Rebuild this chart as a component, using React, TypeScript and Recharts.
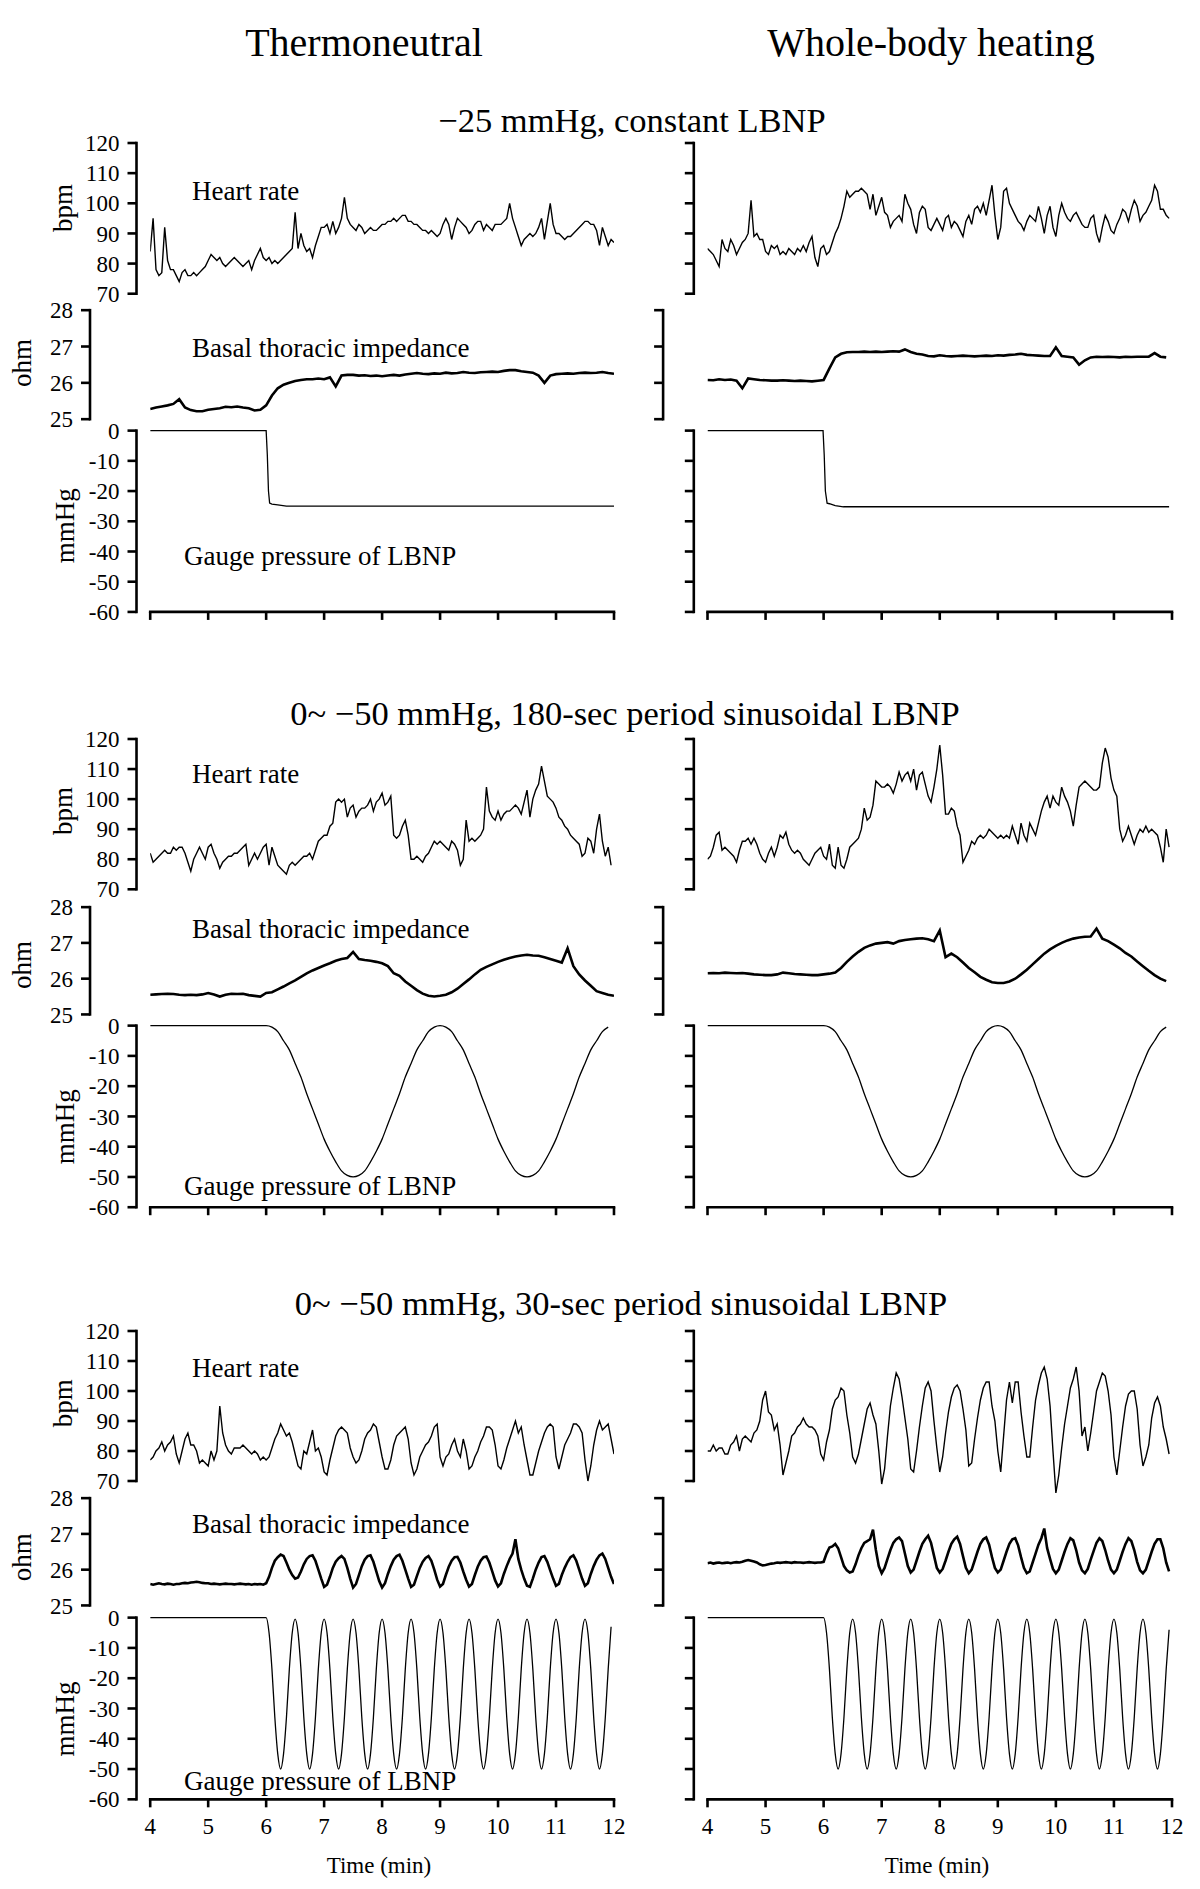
import React from "react";
import { LineChart, Line, XAxis, YAxis, ReferenceLine } from "recharts";

const SERIF = '"Liberation Serif", "Times New Roman", Times, serif';

// ---- ticks ----
const timeTicks = [4, 5, 6, 7, 8, 9, 10, 11, 12];
const hrTicks = [70, 80, 90, 100, 110, 120];
const ohmTicks = [25, 26, 27, 28];
const mmHgTicks = [-60, -50, -40, -30, -20, -10, 0];

// ---- heart rate (bpm), 0.05 min steps from t = 4 ----
const hrConstThermo = [
  84, 95, 78, 76, 77, 92, 81, 78, 78, 76,
  74, 77, 78, 76, 76, 77, 76, 77, 78, 79,
  81, 83, 82, 81, 82, 80, 79, 80, 81, 82,
  81, 80, 79, 80, 81, 78, 81, 83, 85, 82,
  81, 82, 80, 81, 80, 81, 82, 83, 84, 85,
  97, 85, 90, 86, 84, 85, 82, 86, 89, 92,
  92, 93, 90, 94, 90, 92, 95, 102, 95, 93,
  92, 91, 93, 92, 90, 91, 92, 91, 91, 92,
  93, 93, 94, 94, 95, 94, 95, 96, 96, 94,
  94, 93, 93, 92, 91, 91, 90, 91, 90, 89,
  90, 93, 95, 93, 88, 92, 95, 94, 93, 92,
  90, 91, 93, 94, 94, 91, 93, 92, 91, 93,
  93, 93, 94, 95, 100, 95, 92, 89, 86, 88,
  89, 90, 89, 90, 92, 95, 88, 94, 100, 93,
  90, 90, 89, 88, 89, 89, 90, 91, 92, 93,
  94, 94, 93, 93, 91, 86, 92, 89, 86, 88,
  87,
];
const hrConstHeat = [
  85, 84, 83, 81, 79, 88, 85, 84, 88, 86,
  83, 85, 87, 88, 90, 101, 89, 90, 88, 88,
  84, 83, 86, 85, 86, 83, 84, 83, 85, 84,
  83, 85, 84, 86, 84, 87, 89, 82, 79, 85,
  86, 83, 84, 87, 90, 92, 95, 99, 104, 102,
  103, 104, 104, 105, 104, 103, 98, 103, 96, 99,
  102, 97, 96, 92, 94, 95, 96, 94, 103, 100,
  98, 93, 90, 97, 99, 98, 92, 91, 93, 95,
  93, 91, 95, 96, 92, 94, 93, 91, 89, 94,
  96, 93, 98, 99, 97, 100, 96, 101, 106, 96,
  88, 92, 104, 105, 100, 98, 96, 94, 93, 91,
  94, 96, 95, 94, 99, 95, 90, 96, 99, 92,
  89, 96, 100, 97, 95, 94, 96, 97, 95, 93,
  92, 92, 95, 96, 90, 87, 92, 96, 94, 91,
  90, 93, 95, 98, 97, 94, 98, 101, 99, 94,
  96, 97, 99, 101, 106, 104, 98, 98, 96, 95,
];
const hrSlowThermo = [
  82, 79, 80, 81, 82, 83, 82, 82, 84, 83,
  84, 84, 82, 79, 76, 80, 82, 84, 82, 80,
  84, 85, 82, 80, 77, 79, 80, 81, 81, 82,
  82, 83, 84, 85, 78, 80, 82, 80, 82, 84,
  85, 78, 84, 81, 78, 77, 76, 75, 78, 79,
  78, 79, 80, 81, 81, 82, 80, 83, 86, 87,
  88, 88, 91, 92, 99, 100, 99, 100, 94, 97,
  98, 94, 96, 97, 97, 98, 100, 96, 99, 100,
  102, 98, 99, 101, 88, 87, 88, 91, 93, 88,
  80, 80, 81, 80, 79, 81, 82, 84, 86, 85,
  86, 85, 84, 83, 86, 85, 83, 78, 80, 93,
  86, 87, 86, 87, 88, 90, 104, 96, 94, 93,
  96, 93, 95, 96, 96, 97, 98, 97, 95, 99,
  103, 94, 100, 103, 105, 111, 106, 101, 100, 99,
  97, 94, 93, 91, 90, 88, 87, 86, 85, 81,
  82, 87, 86, 82, 90, 95, 86, 81, 84, 78,
];
const hrSlowHeat = [
  80, 81, 84, 88, 89, 83, 84, 83, 82, 81,
  79, 83, 86, 86, 87, 85, 87, 85, 82, 80,
  79, 82, 84, 81, 84, 88, 87, 89, 85, 83,
  82, 83, 82, 80, 79, 78, 80, 82, 83, 84,
  81, 80, 85, 78, 77, 84, 78, 77, 80, 84,
  85, 86, 87, 90, 97, 93, 94, 98, 106, 105,
  104, 104, 105, 104, 102, 105, 109, 106, 108, 109,
  106, 110, 103, 108, 109, 105, 101, 99, 104, 110,
  118, 108, 95, 95, 97, 96, 91, 88, 79, 81,
  83, 86, 85, 87, 88, 87, 88, 90, 89, 88,
  87, 88, 87, 88, 87, 91, 88, 85, 92, 88,
  86, 92, 90, 88, 92, 96, 99, 101, 97, 101,
  99, 98, 104, 101, 99, 96, 91, 98, 104, 105,
  106, 105, 104, 103, 103, 104, 112, 117, 114, 107,
  103, 101, 90, 86, 88, 91, 88, 85, 88, 90,
  89, 91, 89, 90, 89, 88, 84, 79, 90, 84,
];
const hrFastThermo = [
  77, 78, 80, 81, 83, 80, 82, 83, 85, 79,
  76, 80, 84, 86, 82, 82, 80, 76, 77, 76,
  75, 80, 77, 80, 95, 86, 82, 80, 79, 81,
  81, 81, 82, 81, 80, 79, 80, 79, 77, 78,
  77, 78, 81, 84, 86, 89, 87, 85, 86, 83,
  79, 75, 74, 80, 79, 83, 87, 80, 81, 78,
  73, 72, 77, 81, 85, 87, 88, 87, 86, 81,
  78, 76, 77, 80, 84, 86, 87, 89, 88, 83,
  78, 74, 74, 77, 82, 85, 86, 87, 88, 84,
  76, 72, 74, 78, 80, 82, 83, 85, 88, 89,
  78, 75, 78, 79, 82, 84, 80, 78, 84, 80,
  74, 75, 78, 80, 83, 85, 88, 88, 87, 82,
  75, 74, 77, 81, 84, 87, 90, 86, 88, 82,
  77, 72, 72, 76, 80, 83, 86, 88, 89, 88,
  78, 74, 78, 82, 84, 86, 89, 89, 88, 86,
  77, 70, 75, 82, 87, 90, 87, 88, 89, 84,
  79,
];
const hrFastHeat = [
  80, 80, 82, 80, 81, 81, 79, 79, 82, 83,
  85, 80, 84, 85, 84, 83, 86, 87, 90, 97,
  100, 93, 92, 87, 89, 82, 72, 76, 80, 85,
  86, 88, 89, 91, 89, 88, 88, 87, 85, 79,
  77, 83, 87, 94, 97, 98, 101, 100, 92, 86,
  78, 76, 79, 84, 89, 94, 96, 92, 89, 80,
  69, 74, 85, 95, 101, 106, 104, 98, 91, 84,
  74, 73, 80, 88, 95, 101, 103, 100, 90, 81,
  73, 78, 86, 93, 98, 101, 102, 100, 94, 87,
  75, 76, 84, 91, 97, 101, 103, 103, 95, 90,
  80, 73, 85, 97, 103, 96, 103, 103, 93, 85,
  78, 78, 88, 97, 102, 106, 108, 104, 95, 80,
  66, 72, 81, 89, 95, 101, 104, 108, 100, 85,
  88, 80, 86, 93, 100, 103, 106, 105, 100, 92,
  78, 72, 80, 88, 95, 99, 100, 100, 94, 82,
  75, 78, 82, 91, 96, 98, 95, 88, 84, 79,
];

// ---- basal thoracic impedance (ohm) ----
// 0.1 min steps
const ohmConstThermo = [
  25.28, 25.32, 25.35, 25.38, 25.42, 25.55, 25.32, 25.25, 25.22, 25.22,
  25.26, 25.28, 25.3, 25.34, 25.33, 25.35, 25.32, 25.3, 25.24, 25.26,
  25.38, 25.65, 25.85, 25.95, 26.0, 26.05, 26.08, 26.1, 26.1, 26.12,
  26.1, 26.15, 25.9, 26.2, 26.22, 26.22, 26.2, 26.21, 26.19, 26.2,
  26.18, 26.2, 26.22, 26.2, 26.23, 26.25, 26.27, 26.25, 26.24, 26.26,
  26.25, 26.28, 26.26, 26.27, 26.3, 26.28, 26.27, 26.29, 26.3, 26.31,
  26.3, 26.33, 26.35, 26.35, 26.32, 26.3, 26.28, 26.2, 26.0, 26.2,
  26.24, 26.25, 26.26, 26.25, 26.27, 26.28, 26.27, 26.28, 26.3, 26.27,
  26.25,
];
const ohmConstHeat = [
  26.08, 26.07, 26.1, 26.08, 26.09, 26.06, 25.85, 26.12, 26.1, 26.08,
  26.07, 26.06, 26.06, 26.07, 26.06, 26.05, 26.06, 26.05, 26.04, 26.06,
  26.08, 26.4, 26.7, 26.8, 26.84, 26.85, 26.85, 26.86, 26.85, 26.86,
  26.85, 26.86, 26.87, 26.86, 26.92, 26.85, 26.8, 26.78, 26.74, 26.73,
  26.76, 26.74, 26.73, 26.74, 26.75, 26.74, 26.73, 26.74, 26.75, 26.74,
  26.76, 26.75, 26.77, 26.78, 26.8, 26.77, 26.76, 26.75, 26.74, 26.74,
  26.98, 26.74, 26.72, 26.7, 26.5, 26.62, 26.7, 26.72, 26.71, 26.72,
  26.71, 26.7, 26.72, 26.71, 26.72, 26.72, 26.72, 26.82, 26.72, 26.7,
];
const ohmSlowThermo = [
  25.55, 25.56, 25.57, 25.58, 25.57, 25.55, 25.54, 25.55, 25.54, 25.56,
  25.6, 25.56, 25.5, 25.55, 25.58, 25.57, 25.58, 25.54, 25.52, 25.5,
  25.6, 25.62, 25.7, 25.78, 25.87, 25.95, 26.05, 26.15, 26.23, 26.3,
  26.37, 26.43, 26.5, 26.55, 26.58, 26.75, 26.55, 26.52, 26.5, 26.47,
  26.43, 26.35, 26.15, 26.08, 25.92, 25.8, 25.68, 25.58, 25.52, 25.5,
  25.52, 25.55, 25.62, 25.72, 25.85, 25.98, 26.12, 26.25, 26.33, 26.4,
  26.47, 26.53, 26.58, 26.62, 26.65, 26.67, 26.65, 26.64, 26.6, 26.55,
  26.5, 26.45, 26.85, 26.35, 26.12, 25.95, 25.8, 25.65, 25.6, 25.55,
  25.52,
];
const ohmSlowHeat = [
  26.15, 26.16, 26.15, 26.17, 26.16, 26.15, 26.16, 26.14, 26.12, 26.11,
  26.1, 26.1, 26.12, 26.17, 26.15, 26.13, 26.12, 26.11, 26.1, 26.1,
  26.12, 26.14, 26.17, 26.3, 26.47, 26.62, 26.75, 26.86, 26.93, 26.98,
  27.0, 27.02, 26.98, 27.05, 27.08, 27.1, 27.12, 27.13, 27.1, 27.05,
  27.35, 26.6, 26.7, 26.6, 26.45, 26.3, 26.18, 26.05, 25.97, 25.9,
  25.88, 25.88, 25.92, 26.0, 26.12, 26.25, 26.4, 26.55, 26.7, 26.82,
  26.92, 27.0, 27.07, 27.12, 27.15, 27.17, 27.18, 27.4, 27.12, 27.05,
  26.95, 26.85, 26.72, 26.62, 26.48, 26.35, 26.22, 26.1, 26.0, 25.93,
];
// 0.05 min steps
const ohmFastThermo = [
  25.6, 25.58, 25.6, 25.62, 25.6, 25.59, 25.61, 25.6, 25.58, 25.6,
  25.6, 25.62, 25.63, 25.62, 25.64, 25.65, 25.66, 25.65, 25.63, 25.62,
  25.62, 25.6, 25.61, 25.6, 25.59, 25.6, 25.61, 25.6, 25.6, 25.59,
  25.6, 25.61, 25.6, 25.59, 25.6, 25.58, 25.6, 25.59, 25.6, 25.58,
  25.62, 25.8, 26.05, 26.25, 26.35, 26.42, 26.38, 26.2, 26.0, 25.85,
  25.75, 25.78, 25.95, 26.15, 26.3, 26.38, 26.4, 26.25, 26.0, 25.75,
  25.52, 25.58, 25.8, 26.05, 26.22, 26.32, 26.38, 26.3, 26.05, 25.75,
  25.5, 25.6, 25.85, 26.1, 26.28, 26.38, 26.4, 26.22, 25.95, 25.68,
  25.5, 25.62, 25.88, 26.1, 26.28, 26.38, 26.42, 26.25, 26.0, 25.75,
  25.52, 25.58, 25.82, 26.05, 26.22, 26.33, 26.38, 26.25, 26.0, 25.72,
  25.53, 25.6, 25.85, 26.08, 26.25, 26.35, 26.36, 26.2, 25.95, 25.72,
  25.53, 25.6, 25.85, 26.08, 26.25, 26.35, 26.37, 26.2, 25.95, 25.7,
  25.53, 25.62, 25.88, 26.1, 26.3, 26.45, 26.85, 26.3, 26.0, 25.75,
  25.55, 25.52, 25.75, 26.0, 26.2, 26.35, 26.38, 26.22, 25.98, 25.75,
  25.55, 25.6, 25.85, 26.05, 26.22, 26.35, 26.4, 26.25, 26.0, 25.75,
  25.55, 25.62, 25.88, 26.1, 26.28, 26.4, 26.45, 26.3, 26.05, 25.8,
  25.6,
];
const ohmFastHeat = [
  26.18, 26.2, 26.17, 26.19, 26.2, 26.18, 26.19, 26.2, 26.18, 26.2,
  26.21, 26.2, 26.22, 26.25, 26.27, 26.25, 26.23, 26.2, 26.15, 26.12,
  26.13, 26.15, 26.17, 26.18, 26.2, 26.19, 26.2, 26.21, 26.2, 26.19,
  26.21, 26.2, 26.2, 26.19, 26.2, 26.21, 26.2, 26.19, 26.2, 26.2,
  26.22, 26.45, 26.62, 26.65, 26.72, 26.6, 26.35, 26.1, 25.98, 25.92,
  25.95, 26.15, 26.4, 26.6, 26.75, 26.8, 26.85, 27.12, 26.55, 26.1,
  25.9, 26.05, 26.3, 26.55, 26.75, 26.85, 26.9, 26.8, 26.45, 26.1,
  25.92, 26.0, 26.25, 26.5, 26.72, 26.85, 26.95, 26.75, 26.4, 26.05,
  25.92, 26.02, 26.25, 26.5, 26.72, 26.85, 26.92, 26.72, 26.38, 26.05,
  25.9, 26.0, 26.25, 26.5, 26.72, 26.85, 26.9, 26.7, 26.35, 26.05,
  25.92, 26.0, 26.25, 26.5, 26.72, 26.85, 26.88, 26.68, 26.35, 26.05,
  25.9, 25.95, 26.2, 26.45, 26.7, 26.88, 27.15, 26.6, 26.3, 26.02,
  25.9, 26.0, 26.25, 26.5, 26.72, 26.88, 26.82, 26.55, 26.2, 25.98,
  25.9, 26.02, 26.28, 26.52, 26.75, 26.88, 26.8, 26.55, 26.25, 26.0,
  25.9, 26.0, 26.25, 26.5, 26.72, 26.88, 26.8, 26.55, 26.22, 25.98,
  25.9, 26.0, 26.25, 26.5, 26.72, 26.85, 26.85, 26.6, 26.2, 25.95,
];

// ---- gauge pressure of LBNP (mmHg) ----
// constant LBNP: sampled at the listed times
const pConstTimesThermo = [4, 6.0, 6.02, 6.04, 6.06, 6.1, 6.2, 6.35, 12];
const pConstThermo = [0, 0, -8, -20, -24, -24.3, -24.6, -25, -25];
const pConstTimesHeat = [4, 5.99, 6.01, 6.03, 6.06, 6.1, 6.2, 6.34, 11.95];
const pConstHeat = [0, 0, -8, -20, -24, -24.2, -24.8, -25.2, -25.2];
// 180-sec period, 0.1 min steps
const pSlow = [
  0, 0, 0, 0, 0, 0, 0, 0, 0, 0,
  0, 0, 0, 0, 0, 0, 0, 0, 0, 0,
  0, -0.5, -2, -5, -8, -12.5, -17, -22.5, -27.5, -32.5,
  -37.5, -41.5, -45, -48, -49.5, -50, -49.5, -48, -45, -41.5,
  -37.5, -32.5, -27.5, -22.5, -17, -12.5, -8, -5, -2, -0.5,
  0, -0.5, -2, -5, -8, -12.5, -17, -22.5, -27.5, -32.5,
  -37.5, -41.5, -45, -48, -49.5, -50, -49.5, -48, -45, -41.5,
  -37.5, -32.5, -27.5, -22.5, -17, -12.5, -8, -5, -2, -0.5,
];
// 30-sec period, 0.05 min steps
const pFastThermo = [
  0, 0, 0, 0, 0, 0, 0, 0, 0, 0,
  0, 0, 0, 0, 0, 0, 0, 0, 0, 0,
  0, 0, 0, 0, 0, 0, 0, 0, 0, 0,
  0, 0, 0, 0, 0, 0, 0, 0, 0, 0,
  0,
  -5, -17, -33, -45, -50, -45, -33, -17, -5, -0.5,
  -5, -17, -33, -45, -50, -45, -33, -17, -5, -0.5,
  -5, -17, -33, -45, -50, -45, -33, -17, -5, -0.5,
  -5, -17, -33, -45, -50, -45, -33, -17, -5, -0.5,
  -5, -17, -33, -45, -50, -45, -33, -17, -5, -0.5,
  -5, -17, -33, -45, -50, -45, -33, -17, -5, -0.5,
  -5, -17, -33, -45, -50, -45, -33, -17, -5, -0.5,
  -5, -17, -33, -45, -50, -45, -33, -17, -5, -0.5,
  -5, -17, -33, -45, -50, -45, -33, -17, -5, -0.5,
  -5, -17, -33, -45, -50, -45, -33, -17, -5, -0.5,
  -5, -17, -33, -45, -50, -45, -33, -17, -5, -0.5,
  -5, -17, -33, -45, -50, -45, -33, -17, -3,
];
const pFastHeat = [
  0, 0, 0, 0, 0, 0, 0, 0, 0, 0,
  0, 0, 0, 0, 0, 0, 0, 0, 0, 0,
  0, 0, 0, 0, 0, 0, 0, 0, 0, 0,
  0, 0, 0, 0, 0, 0, 0, 0, 0, 0,
  0,
  -5, -17, -33, -45, -50, -45, -33, -17, -5, -0.5,
  -5, -17, -33, -45, -50, -45, -33, -17, -5, -0.5,
  -5, -17, -33, -45, -50, -45, -33, -17, -5, -0.5,
  -5, -17, -33, -45, -50, -45, -33, -17, -5, -0.5,
  -5, -17, -33, -45, -50, -45, -33, -17, -5, -0.5,
  -5, -17, -33, -45, -50, -45, -33, -17, -5, -0.5,
  -5, -17, -33, -45, -50, -45, -33, -17, -5, -0.5,
  -5, -17, -33, -45, -50, -45, -33, -17, -5, -0.5,
  -5, -17, -33, -45, -50, -45, -33, -17, -5, -0.5,
  -5, -17, -33, -45, -50, -45, -33, -17, -5, -0.5,
  -5, -17, -33, -45, -50, -45, -33, -17, -5, -0.5,
  -5, -17, -33, -45, -50, -45, -33, -17, -4,
];

type Pt = { t: number; v: number };
const stepped = (vals: number[], step: number): Pt[] =>
  vals.map((v, i) => ({ t: Math.round((4 + i * step) * 1000) / 1000, v }));
const paired = (ts: number[], vs: number[]): Pt[] => ts.map((t, i) => ({ t, v: vs[i] }));

// layout of the two columns and three sections (page pixels)
const COLS = [
  { left: 0, hrAxis: 136.5, ohmAxis: 90, t4: 150.2, t12: 614, showY: true },
  { left: 600, hrAxis: 693.8, ohmAxis: 663.1, t4: 707.5, t12: 1172, showY: false },
];
const ROWS = [
  { hr: [143.3, 294], ohm: [310, 419], p: [430.7, 612] },
  { hr: [739, 889.3], ohm: [906.7, 1014], p: [1025.7, 1207.3] },
  { hr: [1330.7, 1480.7], ohm: [1497.7, 1605], p: [1617.3, 1799] },
];

const tickFont = { fontSize: 23, fontFamily: SERIF, fill: "#000" };
const AXIS_W = 2.6;
const Y_TICK = 9;
const X_TICK = 8;

type PanelProps = {
  left: number;
  axisX: number;
  t4: number;
  t12: number;
  top: number;
  bottom: number;
  lo: number;
  hi: number;
  ticks: number[];
  floor?: number;
  data: Pt[];
  showY: boolean;
  xMode: "none" | "ticks" | "labels";
  curve: "linear" | "monotone";
  sw: number;
};

function Panel(p: PanelProps) {
  const MT = 16;
  const MB = 16;
  const MR = 18;
  const pxPerUnit = (p.bottom - p.top) / (p.hi - p.lo);
  const pad = (p.hi - p.lo) * 0.02;
  const hi2 = p.hi + pad;
  const lo2 = p.floor ?? (p.xMode === "none" ? p.lo - pad : p.lo);
  const plotTop = p.top - (hi2 - p.hi) * pxPerUnit;
  const plotH = (hi2 - lo2) * pxPerUnit;
  const xh = p.xMode === "labels" ? 46 : p.xMode === "ticks" ? 12 : 0;
  const width = p.t12 - p.left + MR;
  const height = MT + plotH + xh + MB;
  const pxPerMin = (p.t12 - p.t4) / 8;
  const tAxis = 4 - (p.t4 - p.axisX) / pxPerMin;
  const tTickEnd = tAxis - Y_TICK / pxPerMin;
  const xTickEnd = p.lo - X_TICK / pxPerUnit;

  return (
    <div style={{ position: "absolute", left: p.left, top: plotTop - MT }}>
      <LineChart
        width={width}
        height={height}
        data={p.data}
        margin={{ top: MT, right: MR, bottom: MB, left: 0 }}
      >
        <XAxis
          type="number"
          dataKey="t"
          domain={[4, 12]}
          ticks={timeTicks}
          interval={0}
          hide={p.xMode === "none"}
          height={xh || 1}
          padding={{ left: p.t4 - p.axisX, right: 0 }}
          axisLine={false}
          tickLine={false}
          tickSize={X_TICK}
          tickMargin={10}
          tick={p.xMode === "labels" ? tickFont : false}
          allowDataOverflow
        />
        <YAxis
          type="number"
          domain={[lo2, hi2]}
          ticks={p.ticks}
          interval={0}
          width={p.axisX - p.left}
          axisLine={false}
          tickLine={false}
          tickSize={Y_TICK}
          tickMargin={8}
          tick={p.showY ? tickFont : false}
          allowDataOverflow
        />
        {/* y axis line and its tick marks */}
        <ReferenceLine
          ifOverflow="visible"
          segment={[
            { x: tAxis, y: p.lo },
            { x: tAxis, y: p.hi },
          ]}
          stroke="#000"
          strokeWidth={AXIS_W}
          strokeLinecap="square"
        />
        {p.ticks.map((v) => (
          <ReferenceLine
            key={`yt${v}`}
            ifOverflow="visible"
            segment={[
              { x: tTickEnd, y: v },
              { x: tAxis, y: v },
            ]}
            stroke="#000"
            strokeWidth={AXIS_W}
          />
        ))}
        {/* x axis line and its tick marks */}
        {p.xMode !== "none" && (
          <ReferenceLine
            ifOverflow="visible"
            segment={[
              { x: 4, y: p.lo },
              { x: 12, y: p.lo },
            ]}
            stroke="#000"
            strokeWidth={AXIS_W}
            strokeLinecap="square"
          />
        )}
        {p.xMode !== "none" &&
          timeTicks.map((t) => (
            <ReferenceLine
              key={`xt${t}`}
              ifOverflow="visible"
              segment={[
                { x: t, y: p.lo },
                { x: t, y: xTickEnd },
              ]}
              stroke="#000"
              strokeWidth={AXIS_W}
            />
          ))}
        <Line
          type={p.curve}
          dataKey="v"
          stroke="#000"
          strokeWidth={p.sw}
          dot={false}
          isAnimationActive={false}
        />
      </LineChart>
    </div>
  );
}

const sections = [
  {
    title: "\u221225 mmHg, constant LBNP",
    titleX: 632,
    titleY: 132,
    hr: [stepped(hrConstThermo, 0.05), stepped(hrConstHeat, 0.05)],
    ohm: [stepped(ohmConstThermo, 0.1), stepped(ohmConstHeat, 0.1)],
    p: [paired(pConstTimesThermo, pConstThermo), paired(pConstTimesHeat, pConstHeat)],
    pCurve: "linear" as const,
    hrLabelY: 200,
    ohmLabelY: 356.7,
    pLabelY: 565,
    bpmY: 208,
    ohmY: 363,
    mmHgY: 525.7,
  },
  {
    title: "0~ \u221250 mmHg, 180-sec period sinusoidal LBNP",
    titleX: 625,
    titleY: 725,
    hr: [stepped(hrSlowThermo, 0.05), stepped(hrSlowHeat, 0.05)],
    ohm: [stepped(ohmSlowThermo, 0.1), stepped(ohmSlowHeat, 0.1)],
    p: [stepped(pSlow, 0.1), stepped(pSlow, 0.1)],
    pCurve: "monotone" as const,
    hrLabelY: 782.7,
    ohmLabelY: 938.3,
    pLabelY: 1195,
    bpmY: 811,
    ohmY: 965,
    mmHgY: 1126.7,
  },
  {
    title: "0~ \u221250 mmHg, 30-sec period sinusoidal LBNP",
    titleX: 621,
    titleY: 1315,
    hr: [stepped(hrFastThermo, 0.05), stepped(hrFastHeat, 0.05)],
    ohm: [stepped(ohmFastThermo, 0.05), stepped(ohmFastHeat, 0.05)],
    p: [stepped(pFastThermo, 0.05), stepped(pFastHeat, 0.05)],
    pCurve: "monotone" as const,
    hrLabelY: 1376.7,
    ohmLabelY: 1533.3,
    pLabelY: 1790,
    bpmY: 1403.3,
    ohmY: 1557.3,
    mmHgY: 1719,
  },
];

export default function App() {
  return (
    <div
      style={{
        position: "relative",
        width: 1200,
        height: 1889,
        background: "#fff",
        overflow: "hidden",
        fontFamily: SERIF,
      }}
    >
      <style>{"body{margin:0;background:#fff;}"}</style>
      {sections.map((s, si) =>
        COLS.map((c, ci) => {
          const row = ROWS[si];
          const last = si === ROWS.length - 1;
          return (
            <React.Fragment key={`${si}-${ci}`}>
              <Panel
                left={c.left}
                axisX={c.hrAxis}
                t4={c.t4}
                t12={c.t12}
                top={row.hr[0]}
                bottom={row.hr[1]}
                lo={70}
                hi={120}
                floor={64}
                ticks={hrTicks}
                data={s.hr[ci]}
                showY={c.showY}
                xMode="none"
                curve="linear"
                sw={1.4}
              />
              <Panel
                left={c.left}
                axisX={c.ohmAxis}
                t4={c.t4}
                t12={c.t12}
                top={row.ohm[0]}
                bottom={row.ohm[1]}
                lo={25}
                hi={28}
                ticks={ohmTicks}
                data={s.ohm[ci]}
                showY={c.showY}
                xMode="none"
                curve="linear"
                sw={2.6}
              />
              <Panel
                left={c.left}
                axisX={c.hrAxis}
                t4={c.t4}
                t12={c.t12}
                top={row.p[0]}
                bottom={row.p[1]}
                lo={-60}
                hi={0}
                ticks={mmHgTicks}
                data={s.p[ci]}
                showY={c.showY}
                xMode={last ? "labels" : "ticks"}
                curve={s.pCurve}
                sw={1.3}
              />
            </React.Fragment>
          );
        })
      )}
      <svg
        width={1200}
        height={1889}
        style={{ position: "absolute", left: 0, top: 0, pointerEvents: "none" }}
        fontFamily={SERIF}
        fill="#000"
      >
        <text x={364} y={56} fontSize={40} textAnchor="middle">
          Thermoneutral
        </text>
        <text x={931} y={56} fontSize={40} textAnchor="middle">
          Whole-body heating
        </text>
        {sections.map((s, i) => (
          <g key={i}>
            <text x={s.titleX} y={s.titleY} fontSize={34.5} textAnchor="middle">
              {s.title}
            </text>
            <text x={192} y={s.hrLabelY} fontSize={27}>
              Heart rate
            </text>
            <text x={192} y={s.ohmLabelY} fontSize={27}>
              Basal thoracic impedance
            </text>
            <text x={184} y={s.pLabelY} fontSize={27}>
              Gauge pressure of LBNP
            </text>
            <text
              transform={`translate(63.3,${s.bpmY}) rotate(-90)`}
              fontSize={27}
              textAnchor="middle"
              dominantBaseline="central"
            >
              bpm
            </text>
            <text
              transform={`translate(22.4,${s.ohmY}) rotate(-90)`}
              fontSize={27}
              textAnchor="middle"
              dominantBaseline="central"
            >
              ohm
            </text>
            <text
              transform={`translate(65.3,${s.mmHgY}) rotate(-90)`}
              fontSize={27}
              textAnchor="middle"
              dominantBaseline="central"
            >
              mmHg
            </text>
          </g>
        ))}
        <text x={379} y={1873} fontSize={23} textAnchor="middle">
          Time (min)
        </text>
        <text x={937} y={1873} fontSize={23} textAnchor="middle">
          Time (min)
        </text>
      </svg>
    </div>
  );
}
